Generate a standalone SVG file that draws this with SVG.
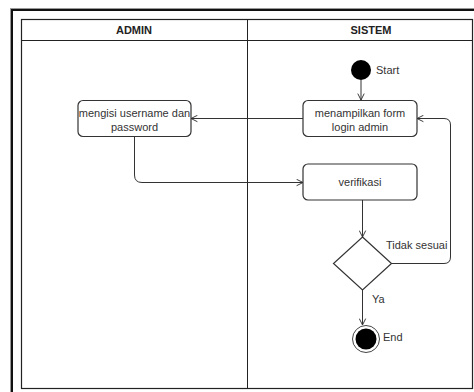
<svg xmlns="http://www.w3.org/2000/svg" width="474" height="392" viewBox="0 0 474 392">
<defs>
<style>
.t{font-family:"Liberation Sans",Arial,sans-serif;font-size:11px;fill:#333}
.h{font-family:"Liberation Sans",Arial,sans-serif;font-size:11px;font-weight:bold;fill:#222;text-anchor:middle}
.box{fill:#fff;stroke:#333;stroke-width:1.2}
.ln{fill:none;stroke:#333;stroke-width:1}
</style>
<marker id="arr" viewBox="0 0 10 10" refX="9" refY="5" markerWidth="8" markerHeight="8" orient="auto" markerUnits="userSpaceOnUse">
<path d="M1,1 L9,5 L1,9" fill="none" stroke="#333" stroke-width="1.2"/>
</marker>
</defs>
<rect width="474" height="392" fill="#fff"/>
<g id="frame">
<path d="M11.5,392 V9.5 H474" fill="none" stroke="#999" stroke-width="3"/>
<path d="M12,392 V10 H474" fill="none" stroke="#111" stroke-width="2"/>
</g>
<g id="pool">
<rect x="21.5" y="19.5" width="451" height="369" fill="#fff" stroke="#222" stroke-width="1.2"/>
<line x1="21.5" y1="40.5" x2="472.5" y2="40.5" stroke="#222" stroke-width="1"/>
<line x1="247.5" y1="19.5" x2="247.5" y2="388.5" stroke="#222" stroke-width="1"/>
<text class="h" x="134" y="34">ADMIN</text>
<text class="h" x="371" y="34">SISTEM</text>
</g>
<g id="connectors">
<path class="ln" d="M361,80 V100" marker-end="url(#arr)"/>
<path class="ln" d="M303,118.5 H191" marker-end="url(#arr)"/>
<path class="ln" d="M134.5,137 V175 Q134.5,182.5 142,182.5 H303" marker-end="url(#arr)"/>
<path class="ln" d="M362.5,200 V237" marker-end="url(#arr)"/>
<path class="ln" d="M392,263.5 H444 Q450.5,263.5 450.5,257 V125 Q450.5,118.5 444,118.5 H417" marker-end="url(#arr)"/>
<path class="ln" d="M362.5,290 V325" marker-end="url(#arr)"/>
<text class="t" x="386" y="249">Tidak sesuai</text>
<text class="t" x="372" y="303">Ya</text>
</g>
<g id="start">
<circle cx="361" cy="70" r="10" fill="#000"/>
<text class="t" x="376" y="74">Start</text>
</g>
<g id="tampil">
<rect class="box" x="303" y="100.5" width="114" height="36" rx="5"/>
<text class="t" x="360" y="117" text-anchor="middle">menampilkan form</text>
<text class="t" x="360" y="131" text-anchor="middle">login admin</text>
</g>
<g id="isi">
<rect class="box" x="78" y="100.5" width="113" height="36" rx="5"/>
<text class="t" x="134.5" y="117" text-anchor="middle">mengisi username dan</text>
<text class="t" x="134.5" y="131" text-anchor="middle">password</text>
</g>
<g id="verifikasi">
<rect class="box" x="303" y="164" width="114" height="36" rx="5"/>
<text class="t" x="360" y="186" text-anchor="middle">verifikasi</text>
</g>
<g id="decision">
<path d="M362.5,237 L391.5,263.5 L362.5,290 L333.5,263.5 Z" fill="#fff" stroke="#333" stroke-width="1.2"/>
</g>
<g id="end">
<circle cx="366" cy="339" r="13.5" fill="#fff" stroke="#444" stroke-width="1"/>
<circle cx="366" cy="339" r="10.5" fill="#000"/>
<text class="t" x="383" y="341">End</text>
</g>
</svg>
